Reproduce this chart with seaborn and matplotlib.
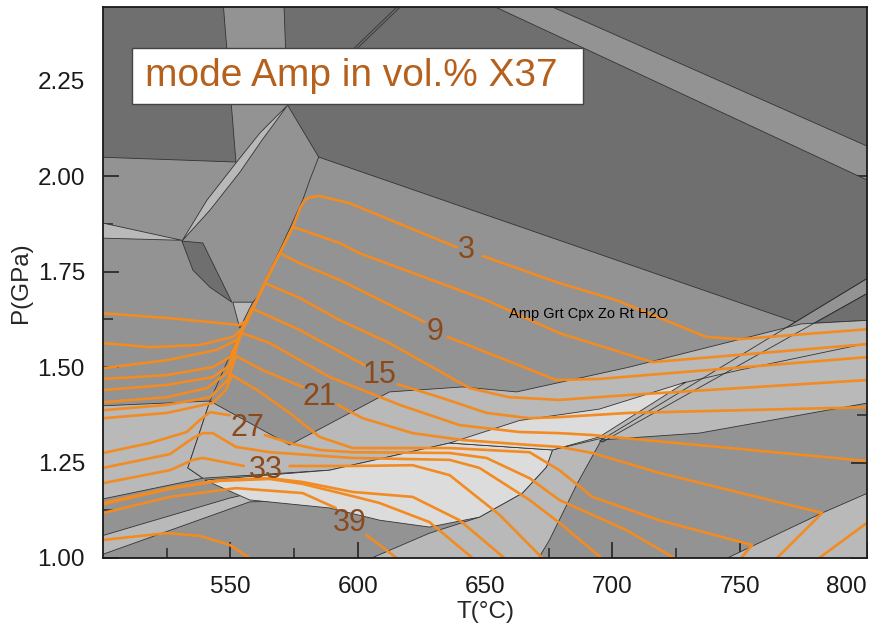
import numpy as np
import pandas as pd
import matplotlib
matplotlib.use("Agg")
import matplotlib.pyplot as plt
from matplotlib.patches import Rectangle
from matplotlib.ticker import FormatStrFormatter
import seaborn as sns

# ---------------- colours ----------------
DARK, MED, LIGHT, LIGHTEST = "#6f6f6f", "#939393", "#b9b9b9", "#dcdcdc"
EDGE = "#333333"
ORANGE = "#f28b22"
LABEL_C = "#8c4a1c"
TITLE_C = "#b5601c"

# ---------------- axes / ticks ----------------
x_ticks = [550, 600, 650, 700, 750, 800]
x_minor = [525, 575, 625, 675, 725, 775]
y_ticks = [1.00, 1.25, 1.50, 1.75, 2.00, 2.25]
y_minor = [1.125, 1.375, 1.625, 1.875, 2.125, 2.375]

# ---------------- phase-field polygons (T in degC, P in GPa) ----------------
d1_T = [498, 547.1, 552.2, 498]
d1_P = [2.46, 2.46, 2.037, 2.050]
d2_T = [571.0, 651.8, 800, 802, 802, 774.1, 584.7, 572.5]
d2_P = [2.46, 2.45, 1.990, 1.990, 1.623, 1.613, 2.050, 2.186]
d3_T = [674.1, 802, 802]
d3_P = [2.45, 2.46, 2.073]
d4_T = [531.0, 539.2, 550.6, 542.0, 535.3]
d4_P = [1.830, 1.825, 1.670, 1.709, 1.754]
strip_T = [694.9, 802, 802, 696.1]
strip_P = [1.306, 1.740, 1.700, 1.304]
lens_T = [531.0, 540.8, 552.5, 561.6, 572.5, 562.4, 553.7, 542.0]
lens_P = [1.830, 1.937, 2.037, 2.113, 2.186, 2.094, 2.010, 1.911]
sliver_T = [498, 531.0, 498]
sliver_P = [1.880, 1.832, 1.838]
tri_T = [551.0, 558.8, 553.7]
tri_P = [1.670, 1.670, 1.602]
left_T = [498, 542.0, 533.3, 539.2, 498]
left_P = [1.398, 1.411, 1.236, 1.209, 1.152]
band_T = [542.0, 573.3, 612.5, 641.2, 662.4, 706.7, 774.1, 802, 802, 734.1,
          694.9, 676.5, 636.1, 589.0, 539.2, 533.3]
band_P = [1.411, 1.296, 1.435, 1.448, 1.435, 1.500, 1.613, 1.623, 1.408, 1.327,
          1.309, 1.283, 1.301, 1.230, 1.209, 1.236]
band2_T = [498, 549.8, 589.0, 589.0, 557.6, 498]
band2_P = [1.055, 1.157, 1.217, 1.152, 1.147, 1.005]
core_T = [540.0, 589.0, 636.1, 676.5, 674.1, 664.7, 647.8, 628.2, 608.6, 589.0, 557.6]
core_P = [1.204, 1.230, 1.301, 1.283, 1.238, 1.170, 1.107, 1.081, 1.099, 1.131, 1.152]
wedge_T = [636.1, 663.5, 694.9, 729.0, 694.9, 676.5]
wedge_P = [1.301, 1.360, 1.390, 1.461, 1.317, 1.283]
botl_T = [602.0, 628.2, 647.8, 664.7, 674.1, 676.5, 696.1, 686.3, 675.3, 670.2]
botl_P = [0.99, 1.065, 1.107, 1.170, 1.238, 1.283, 1.314, 1.196, 1.047, 0.99]
botr_T = [742.0, 782.4, 802, 802]
botr_P = [0.99, 1.118, 1.175, 0.99]

# extra boundary lines
diam_T = [584.7, 581.2, 578.4, 569.4, 560.4, 558.8]
diam_P = [2.050, 1.990, 1.937, 1.806, 1.681, 1.670]
bline_T = [554.5, 542.0]
bline_P = [1.602, 1.411]
thin1_T = [590.0, 616.5]
thin1_P = [2.28, 2.45]
thin2_T = [591.3, 617.8]
thin2_P = [2.28, 2.45]
inner_T = [727.5, 749.8, 802]
inner_P = [1.458, 1.492, 1.565]

# ---------------- Amp isopleths (segments broken at the labels) ----------------
iso = {
    "c3a": ([500, 526.3, 553.7, 556.5, 560.4, 563.5, 569.4, 574.5, 577.5, 579.2, 581.5, 585.1, 596.9, 638.8],
            [1.641, 1.628, 1.610, 1.623, 1.675, 1.720, 1.798, 1.866, 1.918, 1.937, 1.945, 1.948, 1.929, 1.814]),
    "c3b": ([649.0, 679.2, 701.6, 736.9, 749.8, 800],
            [1.791, 1.720, 1.675, 1.579, 1.573, 1.599]),
    "c6": ([500, 518.4, 538.0, 551.0, 554.9, 556.5, 560.4, 563.5, 569.4, 574.5, 577.3, 592.9, 600.8, 650.6, 679.2, 715.7, 800],
           [1.563, 1.552, 1.558, 1.579, 1.602, 1.623, 1.675, 1.720, 1.798, 1.866, 1.861, 1.825, 1.798, 1.675, 1.589, 1.513, 1.560]),
    "c9a": ([500, 525.1, 544.7, 552.5, 556.5, 560.4, 563.5, 569.4, 577.3, 592.9, 626.3],
            [1.497, 1.518, 1.545, 1.571, 1.618, 1.675, 1.720, 1.798, 1.772, 1.728, 1.618]),
    "c9b": ([635.3, 678.0, 694.9, 800],
            [1.579, 1.466, 1.469, 1.526]),
    "c12": ([500, 525.1, 543.1, 549.8, 553.7, 556.5, 560.4, 563.5, 577.3, 592.9, 612.5, 643.9, 659.6, 679.2, 706.7, 800],
            [1.469, 1.479, 1.500, 1.526, 1.584, 1.623, 1.675, 1.720, 1.681, 1.623, 1.563, 1.445, 1.421, 1.414, 1.427, 1.466]),
    "c15a": ([500, 525.1, 543.1, 551.0, 553.7, 558.4, 577.3, 602.7],
             [1.440, 1.453, 1.474, 1.510, 1.584, 1.654, 1.597, 1.505]),
    "c15b": ([615.7, 632.2, 650.6, 667.5, 679.2, 706.7, 800],
             [1.455, 1.421, 1.380, 1.366, 1.369, 1.380, 1.395]),
    "c18": ([500, 525.1, 540.8, 548.6, 551.8, 554.5, 565.5, 577.3, 589.0, 616.5, 640.0, 663.5, 679.2, 692.2, 800],
            [1.408, 1.421, 1.445, 1.484, 1.545, 1.589, 1.563, 1.518, 1.474, 1.401, 1.348, 1.330, 1.327, 1.322, 1.254]),
    "c21a": ([500, 525.1, 542.0, 549.0, 552.2, 562.7, 578.4],
             [1.387, 1.401, 1.421, 1.466, 1.529, 1.492, 1.448]),
    "c21b": ([592.2, 602.0, 621.6, 641.2, 667.5, 679.2, 692.2, 718.4, 782.4, 764.7],
             [1.401, 1.366, 1.327, 1.309, 1.296, 1.291, 1.275, 1.223, 1.118, 1.0]),
    "c24": ([500, 525.1, 543.1, 548.2, 550.6, 561.6, 573.3, 585.1, 598.0, 636.1, 667.5, 679.2, 692.2, 718.4, 754.9, 750.6],
            [1.366, 1.380, 1.406, 1.440, 1.479, 1.435, 1.380, 1.317, 1.288, 1.288, 1.277, 1.230, 1.160, 1.099, 1.034, 1.0]),
    "c27a": ([500, 518.4, 532.9, 538.0, 542.0, 549.8],
             [1.275, 1.301, 1.330, 1.361, 1.382, 1.374]),
    "c27b": ([563.5, 573.3, 585.1, 598.0, 636.1, 650.6, 667.5, 679.2, 705.5, 724.3],
             [1.322, 1.301, 1.283, 1.277, 1.275, 1.262, 1.209, 1.152, 1.073, 1.0]),
    "c30": ([500, 526.3, 535.3, 539.2, 543.1, 552.2, 565.5, 598.0, 636.1, 647.8, 667.5, 680.4, 695.7],
            [1.236, 1.272, 1.314, 1.327, 1.327, 1.291, 1.277, 1.262, 1.257, 1.236, 1.152, 1.086, 1.0]),
    "c33a": ([500, 526.3, 535.3, 539.2, 555.3],
             [1.196, 1.230, 1.257, 1.262, 1.241]),
    "c33b": ([573.3, 598.0, 621.6, 636.1, 655.7, 672.5],
             [1.241, 1.241, 1.243, 1.217, 1.113, 1.0]),
    "c36": ([500, 526.3, 545.9, 565.5, 578.4, 598.0, 621.6, 640.0, 657.6],
            [1.144, 1.183, 1.204, 1.209, 1.199, 1.173, 1.160, 1.099, 1.0]),
    "c37": ([500, 526.3, 545.9, 565.5, 578.4, 598.0, 608.6, 628.2, 645.1],
            [1.141, 1.181, 1.202, 1.207, 1.194, 1.162, 1.144, 1.094, 1.0]),
    "c39a": ([500, 526.3, 552.2, 578.4, 591.4],
             [1.118, 1.160, 1.183, 1.170, 1.131]),
    "c39b": ([603.5, 615.3],
             [1.060, 1.0]),
    "c42": ([500, 510.6, 525.1, 538.0, 549.8, 557.6],
            [1.047, 1.055, 1.065, 1.058, 1.034, 1.0]),
    "c_hi": ([781.2, 800],
             [1.0, 1.092]),
}

label_text = ["3", "9", "15", "21", "27", "33", "39"]
label_T = [642.7, 630.2, 608.6, 585.1, 556.9, 563.9, 596.9]
label_P = [1.806, 1.592, 1.479, 1.421, 1.340, 1.230, 1.092]

field_name = "Amp Grt Cpx Zo Rt H2O"
title_text = "mode Amp in vol.% X37"

# ---------------- figure ----------------
sns.set_theme(style="ticks")
plt.rcParams["font.family"] = ["Liberation Sans", "DejaVu Sans"]

fig = plt.figure(figsize=(8.69, 6.26), dpi=100)
ax = fig.add_axes([103 / 869, 68 / 626, 764 / 869, 551 / 626])
ax.set_facecolor(MED)

polys = [
    (d1_T, d1_P, DARK), (d2_T, d2_P, DARK), (d3_T, d3_P, DARK), (d4_T, d4_P, DARK),
    (strip_T, strip_P, MED),
    (lens_T, lens_P, LIGHT), (sliver_T, sliver_P, LIGHT), (tri_T, tri_P, LIGHT),
    (left_T, left_P, LIGHT), (band_T, band_P, LIGHT), (band2_T, band2_P, LIGHT),
    (botl_T, botl_P, LIGHT), (botr_T, botr_P, LIGHT),
    (core_T, core_P, LIGHTEST), (wedge_T, wedge_P, LIGHTEST),
]
for T, P, c in polys:
    ax.fill(T, P, facecolor=c, edgecolor=EDGE, linewidth=0.6, zorder=1)

for T, P in [(diam_T, diam_P), (bline_T, bline_P), (thin1_T, thin1_P), (thin2_T, thin2_P),
             (inner_T, inner_P), ([694.9, 802], [1.306, 1.740]), ([696.1, 802], [1.304, 1.700])]:
    ax.plot(T, P, color=EDGE, linewidth=0.6, zorder=1.5)

rows = []
for name, (T, P) in iso.items():
    for i, (t, p) in enumerate(zip(T, P)):
        rows.append({"seg": name, "order": i, "T": t, "P": p})
df = pd.DataFrame(rows)
sns.lineplot(data=df, x="T", y="P", units="seg", estimator=None, sort=False,
             color=ORANGE, linewidth=1.9, legend=False, ax=ax, zorder=3)

for s, t, p in zip(label_text, label_T, label_P):
    ax.text(t, p, s, color=LABEL_C, fontsize=22, ha="center", va="center", zorder=4)

ax.text(659.6, 1.639, field_name, fontsize=10.5, color="black", ha="left", va="center", zorder=4)

# title box
ax.add_patch(Rectangle((29 / 764, 454 / 551), 451 / 764, 56 / 551, transform=ax.transAxes,
                       facecolor="white", edgecolor="#444444", linewidth=1.0, zorder=5))
ax.text(42 / 764, 482 / 551, title_text, transform=ax.transAxes, fontsize=28,
        color=TITLE_C, ha="left", va="center", zorder=6)

ax.set_xlim(500, 800)
ax.set_ylim(1.0, 2.443)
ax.set_xticks(x_ticks)
ax.set_xticks(x_minor, minor=True)
ax.set_yticks(y_ticks)
ax.set_yticks(y_minor, minor=True)
ax.yaxis.set_major_formatter(FormatStrFormatter("%.2f"))
ax.tick_params(which="major", direction="in", length=11.5, width=1.1, labelsize=17.5,
               right=True, top=False, pad=13, colors="#1a1a1a")
ax.tick_params(which="minor", direction="in", length=7.5, width=1.1, right=True, top=False)
for lab in ax.get_xticklabels():
    if lab.get_text() == "800":
        lab.set_horizontalalignment("right")
ax.set_xlabel("T(°C)", fontsize=17.5, labelpad=2)
ax.set_ylabel("P(GPa)", fontsize=17.5, labelpad=4)
for sp in ax.spines.values():
    sp.set_linewidth(1.3)
    sp.set_color("#1a1a1a")
    sp.set_zorder(7)

fig.savefig("out.png", dpi=100)
